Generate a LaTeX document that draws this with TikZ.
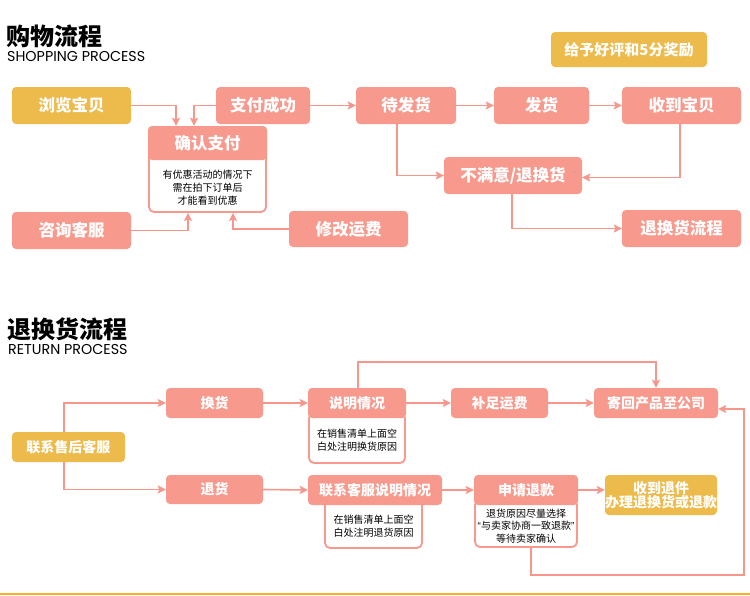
\documentclass[tikz,border=0pt]{standalone}
\usepackage{fontspec}
\setmainfont{Noto Sans CJK SC}
\newfontfamily\en{Poppins}
\newfontfamily\lat{Liberation Sans}
\usetikzlibrary{arrows.meta}
\definecolor{pk}{HTML}{F8998D}
\definecolor{yl}{HTML}{EDBA4C}
\definecolor{ln}{HTML}{F7968A}
\definecolor{bar}{HTML}{F9B027}
\begin{document}
\begin{tikzpicture}[x=1pt,y=-1pt,
  box/.style={fill=pk, rounded corners=4pt, text=white, inner sep=0pt,
    font=\bfseries\fontsize{16.5}{16.5}\selectfont},
  sbox/.style={box, font=\bfseries\fontsize{14}{15}\selectfont, minimum height=30pt},
  ybox/.style={fill=yl},
  note/.style={draw=pk, line width=1.8pt, fill=white, rounded corners=5pt, inner sep=0pt},
  ntext/.style={font=\fontsize{10}{13}\selectfont, align=center, inner sep=0pt},
  arr/.style={draw=ln, line width=1.6pt, -{Stealth[length=8pt,width=8pt,inset=1.5pt]}},
  ttl/.style={anchor=west, inner sep=0pt, font=\bfseries\fontsize{24}{24}\selectfont},
  sub/.style={anchor=west, inner sep=0pt, font=\en\fontsize{14.3}{14.3}\selectfont}
]
\useasboundingbox (0,0) rectangle (750,595);
\fill[white] (0,0) rectangle (750,595);

% ---------- titles
\node[ttl] (t1) at (6,36) {购物流程};
\node[sub] (s1) at (7,56) {SHOPPING PROCESS};
\node[ttl] (t2) at (7,329) {退换货流程};
\node[sub] (s2) at (8,349) {RETURN PROCESS};

% ---------- shopping process
\node[box, ybox, minimum width=119pt, minimum height=37pt] (browse) at (71.5,105.5) {浏览宝贝};
\node[box, minimum width=94pt, minimum height=37pt] (pay) at (263,105.5) {支付成功};
\node[box, minimum width=100pt, minimum height=37pt] (wait) at (406,105.5) {待发货};
\node[box, minimum width=95pt, minimum height=37pt] (ship) at (541.5,105.5) {发货};
\node[box, minimum width=119pt, minimum height=37pt] (recv) at (681.5,105.5) {收到宝贝};
\node[box, ybox, minimum width=156pt, minimum height=35pt, font=\bfseries\fontsize{15}{15}\selectfont] (award) at (629,49.5) {给予好评和5分奖励};

\node[note, minimum width=117pt, minimum height=62pt] (cnote) at (207.5,181) {};
\node[box, minimum width=119pt, minimum height=34pt] (confirm) at (207.5,143) {确认支付};
\node[ntext] (cnotet) at (207.5,188) {有优惠活动的情况下\\需在拍下订单后\\才能看到优惠};

\node[box, minimum width=138pt, minimum height=37pt] (unhappy) at (513,175.5) {不满意/退换货};
\node[box, minimum width=119pt, minimum height=37pt] (retflow) at (681.5,228.5) {退换货流程};
\node[box, minimum width=119pt, minimum height=37pt] (consult) at (71.5,230.5) {咨询客服};
\node[box, minimum width=119pt, minimum height=36pt] (modify) at (348.5,229) {修改运费};

\draw[arr] (browse.east) -| ([xshift=-31.5pt]confirm.north);
\draw[arr] (pay.west) -| ([xshift=-13.5pt]confirm.north);
\draw[arr] (pay.east) -- (wait.west);
\draw[arr] (wait.east) -- (ship.west);
\draw[arr] (ship.east) -- (recv.west);
\draw[arr] ([xshift=-9pt]wait.south) |- (unhappy.west);
\draw[arr] ([xshift=-1.5pt]recv.south) |- ([yshift=-2pt]unhappy.east);
\draw[arr] ([xshift=-1pt]unhappy.south) |- (retflow.west);
\draw[arr] (consult.east) -| ([xshift=-19.5pt]cnote.south);
\draw[arr] (modify.west) -| ([xshift=25.5pt]cnote.south);

% ---------- return process
\node[sbox, ybox, minimum width=113pt] (svc) at (68.5,447) {联系售后客服};
\node[sbox, minimum width=97pt] (exch) at (214.5,403) {换货};
\node[sbox, minimum width=97pt, minimum height=29pt] (ret) at (214.5,489.5) {退货};

\node[note, minimum width=96pt, minimum height=50pt] (enote) at (357,438) {};
\node[sbox, minimum width=98pt] (explain) at (357,403) {说明情况};
\node[ntext] (enotet) at (357,440) {在销售清单上面空\\白处注明换货原因};

\node[sbox, minimum width=97pt] (supp) at (499.5,403) {补足运费};
\node[sbox, minimum width=124pt] (sendback) at (656,403) {寄回产品至公司};

\node[note, minimum width=97pt, minimum height=48pt] (cnote2) at (373.5,524) {};
\node[sbox, minimum width=134pt] (contact) at (375,490) {联系客服说明情况};
\node[ntext] (cnote2t) at (373.5,526.5) {在销售清单上面空\\白处注明退货原因};

\node[note, minimum width=102pt, minimum height=47pt] (anote) at (526,523.5) {};
\node[sbox, minimum width=104pt] (apply) at (526,490) {申请退款};
\node[ntext, font=\fontsize{10}{12.5}\selectfont] (anotet) at (526,526) {退货原因尽量选择\\{\lat “}与卖家协商一致退款{\lat ”}\\等待卖家确认};

\node[sbox, ybox, minimum width=112pt, minimum height=40pt, align=center, font=\bfseries\fontsize{14}{14}\selectfont] (done) at (661,495) {收到退件\\办理退换货或退款};

\draw[arr] ([xshift=-4.5pt]svc.north) |- (exch.west);
\draw[arr] ([xshift=-4.5pt]svc.south) |- (ret.west);
\draw[arr] (exch.east) -- (explain.west);
\draw[arr] (ret.east) -- (contact.west);
\draw[arr] (explain.east) -- (supp.west);
\draw[arr] (supp.east) -- (sendback.west);
\draw[arr] (contact.east) -- (apply.west);
\draw[arr] (apply.east) -- (apply.east -| done.west);
\coordinate (topline) at (0,362);
\draw[arr] ([xshift=1pt]explain.north) |- (topline -| sendback.north) -- (sendback.north);
\coordinate (lb) at (744,575);
\draw[arr] ([xshift=5pt]anote.south) |- (lb) |- ([yshift=-6pt]sendback.east);

% bottom bar
\draw[bar, line width=2pt] (0,594) -- (750,594);
\end{tikzpicture}
\end{document}
